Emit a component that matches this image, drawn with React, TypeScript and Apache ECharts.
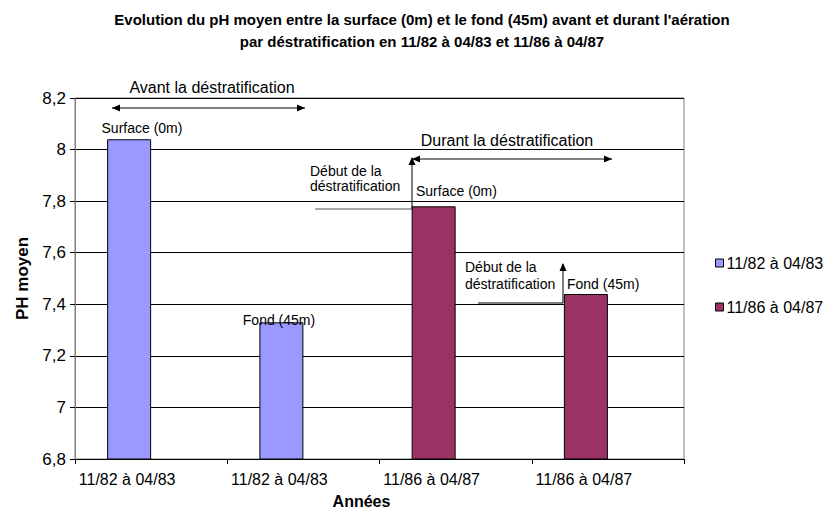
import React, { useEffect, useRef } from 'react';
import * as echarts from 'echarts';

const categories = ['11/82 à 04/83', '11/82 à 04/83', '11/86 à 04/87', '11/86 à 04/87'];
const series1982 = [8.04, 7.33, null, null];
const series1986 = [null, null, 7.78, 7.44];
const emptySeries = [null, null, null, null];
const seriesNames = ['11/82 à 04/83', '11/86 à 04/87'];
const titleLines = [
  "Evolution du pH moyen entre la surface (0m) et le fond (45m) avant et durant l'aération",
  'par déstratification en 11/82 à 04/83 et 11/86 à 04/87',
];

const FONT = '"Liberation Sans", Arial, sans-serif';

const txt = (text: string, x: number, y: number, size: number, align = 'center', bold = false, lh = 16) => ({
  type: 'text',
  style: {
    text,
    x,
    y,
    font: `${bold ? 'bold ' : ''}${size}px ${FONT}`,
    fill: '#000',
    textAlign: align,
    textVerticalAlign: 'middle',
    lineHeight: lh,
  },
  z: 100,
});

const seg = (x1: number, y1: number, x2: number, y2: number, color = '#000') => ({
  type: 'line',
  shape: { x1, y1, x2, y2 },
  style: { stroke: color, lineWidth: 1 },
  z: 100,
});

const head = (x: number, y: number, dx: number, dy: number) => {
  const L = 8;
  const W = 3.5;
  const bx = x - dx * L;
  const by = y - dy * L;
  const px = -dy;
  const py = dx;
  return {
    type: 'polygon',
    shape: {
      points: [
        [x, y],
        [bx + px * W, by + py * W],
        [bx - px * W, by - py * W],
      ],
    },
    style: { fill: '#000' },
    z: 100,
  };
};

export default function App() {
  const ref = useRef<HTMLDivElement>(null);
  useEffect(() => {
    if (!ref.current) return;
    const chart = echarts.init(ref.current, null, { renderer: 'svg' });
    const fmt = (v: number) => String(Math.round(v * 10) / 10).replace('.', ',');
    chart.setOption({
      animation: false,
      backgroundColor: '#fff',
      textStyle: { fontFamily: FONT },
      grid: {
        left: 75,
        right: 140,
        top: 98,
        bottom: 41,
        show: true,
        borderColor: '#808080',
        borderWidth: 1,
      },
      legend: {
        data: seriesNames,
        orient: 'vertical',
        left: 710,
        top: 250,
        itemWidth: 8,
        itemHeight: 8,
        itemGap: 28,
        icon: 'rect',
        textStyle: { fontSize: 16, color: '#000', fontFamily: FONT, padding: [0, 0, 0, -2] },
        itemStyle: { borderColor: '#000', borderWidth: 1 },
      },
      xAxis: [
        {
          type: 'category',
          data: categories,
          axisLine: { lineStyle: { color: '#000', width: 1 } },
          axisTick: { show: true, interval: 0, length: 5, lineStyle: { color: '#000' } },
          axisLabel: {
            interval: 0,
            fontSize: 16,
            color: '#000',
            fontFamily: FONT,
            margin: 12,
            padding: [0, 48, 0, 0],
          },
          name: 'Années',
          nameLocation: 'middle',
          nameGap: 34,
          nameTextStyle: { fontSize: 16, fontWeight: 'bold', color: '#000', fontFamily: FONT, padding: [0, 36, 0, 0] },
        },
        {
          type: 'category',
          data: categories,
          show: false,
          gridIndex: 0,
        },
      ],
      yAxis: {
        type: 'value',
        min: 6.8,
        max: 8.2,
        interval: 0.2,
        axisLine: { show: true, lineStyle: { color: '#808080' } },
        axisTick: { show: true, length: 5, lineStyle: { color: '#000' } },
        axisLabel: { fontSize: 17, color: '#000', fontFamily: FONT, margin: 9, formatter: fmt },
        splitLine: { show: true, lineStyle: { color: '#000', width: 1 } },
        name: 'PH moyen',
        nameLocation: 'middle',
        nameGap: 31,
        nameTextStyle: { fontSize: 17, fontWeight: 'bold', color: '#000', fontFamily: FONT },
      },
      series: [
        {
          type: 'bar',
          name: seriesNames[0],
          xAxisIndex: 0,
          data: series1982,
          barWidth: 44,
          barGap: '0%',
          itemStyle: { color: '#9999FF', borderColor: '#000', borderWidth: 1 },
        },
        {
          type: 'bar',
          name: 'pad1',
          xAxisIndex: 0,
          data: emptySeries,
          barWidth: 44,
          barGap: '0%',
        },
        {
          type: 'bar',
          name: seriesNames[1],
          xAxisIndex: 1,
          data: series1986,
          barWidth: 44,
          barGap: '0%',
          itemStyle: { color: '#993366', borderColor: '#000', borderWidth: 1 },
        },
        {
          type: 'bar',
          name: 'pad2',
          xAxisIndex: 1,
          data: emptySeries,
          barWidth: 44,
          barGap: '0%',
        },
      ],
      graphic: [
        txt(titleLines.join('\n'), 422, 30, 15, 'center', true, 22),
        txt('Avant la déstratification', 212, 87, 16),
        seg(112, 108, 305, 108),
        head(112, 108, -1, 0),
        head(305, 108, 1, 0),
        txt('Surface (0m)', 142, 128, 14),
        txt('Fond (45m)', 279, 320, 14),
        txt('Durant la déstratification', 507, 140, 16),
        seg(412, 159, 612, 159),
        head(412, 159, -1, 0),
        head(612, 159, 1, 0),
        txt('Début de la\ndéstratification', 310, 178, 14, 'left', false, 15),
        seg(315, 209, 412, 209, '#555'),
        seg(412, 209, 412, 158),
        head(412, 157, 0, -1),
        txt('Surface (0m)', 416, 191, 14, 'left'),
        txt('Début de la\ndéstratification', 465, 275, 14, 'left', false, 17),
        seg(478, 303, 563, 303),
        seg(563, 303, 563, 264),
        head(563, 263, 0, -1),
        txt('Fond (45m)', 567, 284, 14, 'left'),
      ],
    });
    return () => chart.dispose();
  }, []);
  return <div ref={ref} style={{ position: 'absolute', left: 0, top: 0, width: 824, height: 514 }} />;
}
